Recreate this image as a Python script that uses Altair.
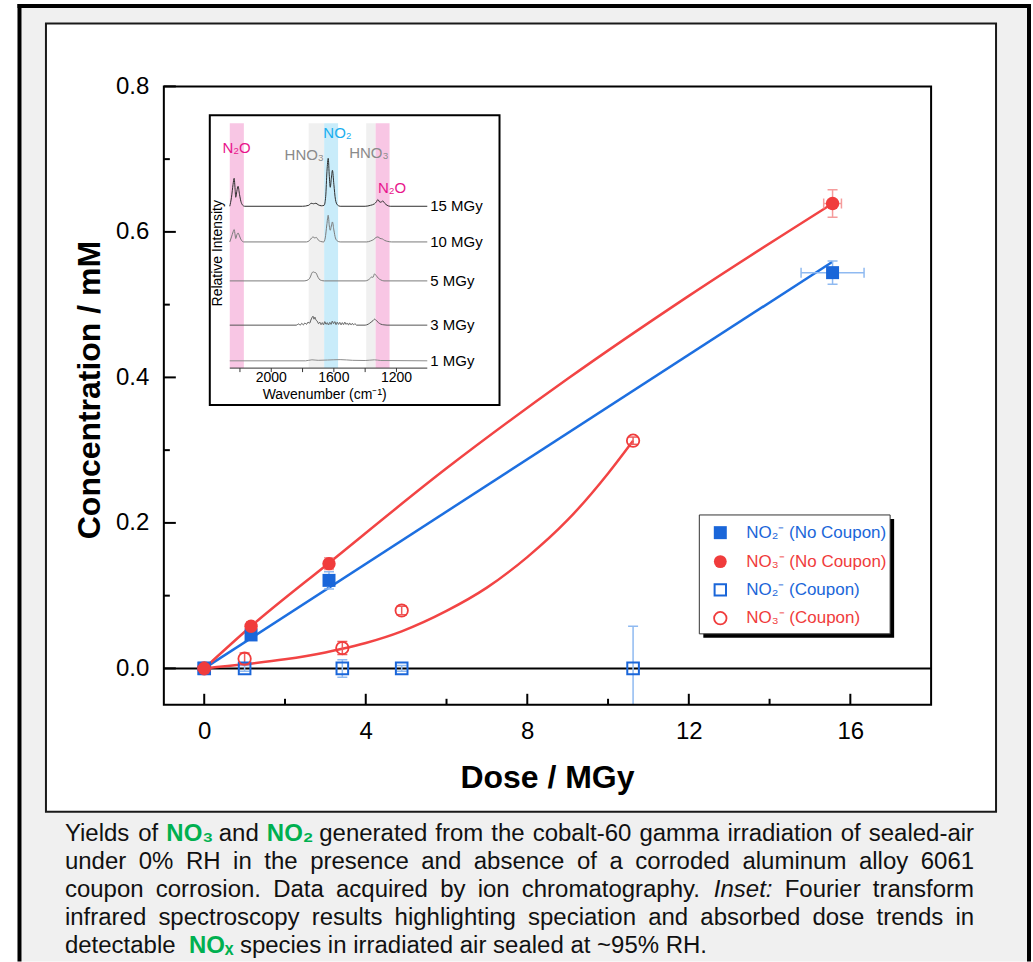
import altair as alt
import pandas as pd

# ------------------------------------------------------------------ data (main plot)
DOSE_NC = [0.0, 1.16, 3.09, 15.56]
NO2_NC = [0.0, 0.046, 0.121, 0.544]
NO2_NC_YERR = [0.0, 0.006, 0.012, 0.016]
NO2_NC_XERR = [0.0, 0.0, 0.0, 0.78]
NO3_NC = [0.0, 0.058, 0.144, 0.639]
NO3_NC_YERR = [0.0, 0.006, 0.008, 0.019]
NO3_NC_XERR = [0.0, 0.0, 0.0, 0.22]

DOSE_C = [0.0, 1.0, 3.42, 4.89, 10.62]
NO2_C = [0.0, 0.0, 0.0, 0.0, 0.0]
NO2_C_YERR = [0.0, 0.004, 0.012, 0.004, 0.058]
NO3_C = [0.0, 0.0133, 0.028, 0.0796, 0.313]
NO3_C_YERR = [0.0, 0.008, 0.009, 0.006, 0.005]

FIT_NO2_NC_X = [0.0, 15.56]
FIT_NO2_NC_Y = [0.0, 0.559]
FIT_NO3_NC_X = [0.0, 1.16, 3.09, 6.0, 9.0, 12.0, 15.56]
FIT_NO3_NC_Y = [0.0, 0.058, 0.145, 0.275, 0.398, 0.512, 0.639]
FIT_NO3_C_X = [0.0, 1.0, 2.0, 3.0, 3.42, 4.0, 4.89, 6.0, 7.0, 8.0, 9.0, 10.0, 10.62]
FIT_NO3_C_Y = [0.0, 0.0056, 0.0125, 0.022, 0.027, 0.035, 0.051, 0.079, 0.111, 0.153, 0.204,
               0.268, 0.313]

X_MAJOR = [0, 4, 8, 12, 16]
X_MINOR = [2, 6, 10, 14]
Y_MAJOR = [0.0, 0.2, 0.4, 0.6, 0.8]
Y_MINOR = [0.1, 0.3, 0.5, 0.7]

LEGEND_LABELS = ["NO\u2082\u207b (No Coupon)", "NO\u2083\u207b (No Coupon)",
                 "NO\u2082\u207b (Coupon)", "NO\u2083\u207b (Coupon)"]

# ------------------------------------------------------------------ data (inset FTIR)
WN_TICKS = [2200, 2000, 1800, 1600, 1400, 1200]
WN_LABELS = [2000, 1600, 1200]
SPEC_NAMES = ["15 MGy", "10 MGy", "5 MGy", "3 MGy", "1 MGy"]
SPEC_OFFSETS = [162.0, 126.3, 87.3, 43.0, 7.3]
SPEC_15 = [(2265, 0), (2254, 9), (2244, 22), (2237, 28), (2231, 17), (2227, 9), (2220, 15),
           (2212, 20), (2203, 12), (2194, 5), (2185, 1.5), (2170, 0), (1800, 0), (1760, 1),
           (1745, 3), (1730, 2.5), (1715, 3), (1700, 1.5), (1680, 0.5), (1662, 1), (1652, 10),
           (1644, 35), (1636, 48), (1629, 30), (1623, 19), (1616, 28), (1609, 36), (1600, 22),
           (1590, 7), (1578, 1.5), (1560, 0), (1400, 0), (1365, 1), (1340, 2.5), (1328, 4.5),
           (1319, 6.7), (1305, 4), (1295, 4.5), (1287, 5.3), (1275, 3), (1260, 1), (1240, 0),
           (1003, 0)]
SPEC_10 = [(2265, 0), (2254, 5), (2244, 10), (2237, 12.4), (2231, 7), (2227, 3.4), (2220, 7),
           (2212, 9), (2203, 6), (2192, 2), (2175, 0), (1775, 0), (1755, 1.5), (1742, 4),
           (1733, 5), (1722, 4), (1712, 4.5), (1700, 2), (1685, 0.5), (1665, 0), (1655, 4),
           (1645, 17), (1636, 26.7), (1629, 16), (1623, 11.7), (1616, 16), (1609, 20), (1600, 12),
           (1590, 4), (1578, 1), (1560, 0), (1390, 0), (1365, 1), (1345, 2.5), (1330, 4.5),
           (1318, 5), (1305, 3.5), (1290, 3), (1275, 1.5), (1255, 0.5), (1230, 0), (1003, 0)]
SPEC_5 = [(2265, 0), (1790, 0), (1765, 1), (1750, 4), (1740, 8), (1732, 9), (1724, 8.5),
          (1714, 8), (1705, 5), (1695, 2), (1680, 0.5), (1660, 0), (1400, 0), (1380, 1),
          (1365, 3), (1358, 4), (1350, 3.5), (1340, 7), (1330, 5.5), (1315, 2.5), (1300, 1),
          (1280, 0), (1003, 0)]
SPEC_3 = [(2265, 0), (1840, 0), (1825, 1.2), (1815, 0), (1805, 1.8), (1795, 0.3), (1785, 2.2),
          (1775, 0.8), (1765, 3), (1755, 2), (1747, 5), (1740, 7.5), (1733, 9), (1727, 6),
          (1721, 8), (1714, 5), (1706, 4), (1698, 1.5), (1690, 3), (1682, 0.5), (1674, 2.5),
          (1666, 0.3), (1658, 3.5), (1650, 0.8), (1642, 2.5), (1634, 0.2), (1626, 2.8),
          (1618, 0.8), (1610, 4), (1602, 1.5), (1594, 3.5), (1586, 0.5), (1578, 3), (1570, 0.8),
          (1562, 2.8), (1554, 0.3), (1546, 2.5), (1538, 0.5), (1530, 3), (1522, 0.8),
          (1514, 2.2), (1506, 0.2), (1498, 2), (1490, 0.3), (1482, 1.8), (1474, 0.2),
          (1466, 1.5), (1455, 0), (1400, 0), (1380, 1), (1362, 3), (1350, 4.5), (1340, 6),
          (1328, 4.5), (1315, 2.5), (1300, 1), (1280, 0.3), (1260, 0), (1003, 0)]
SPEC_1 = [(2265, 0), (1780, 0), (1740, 1), (1700, 0.5), (1640, 0.8), (1560, 1.2), (1480, 0.5),
          (1400, 0.3), (1340, 1), (1300, 0.3), (1003, 0)]
SPECTRA = [SPEC_15, SPEC_10, SPEC_5, SPEC_3, SPEC_1]

BAND_LO = [2265, 1761, 1662, 1393, 1333]
BAND_HI = [2175, 1662, 1573, 1333, 1244]
BAND_KIND = ["N2O", "HNO3", "NO2", "HNO3", "N2O"]
BAND_TEXT = ["N\u2082O", "HNO\u2083", "NO\u2082", "HNO\u2083", "N\u2082O"]
BAND_TEXT_WN = [2222, 1789, 1577, 1376, 1228]
BAND_TEXT_Y = [220, 213, 235, 215, 180]

CAPTION_LINES = [
    "Yields of {NO\u2083} and {NO\u2082} generated from the cobalt-60 gamma irradiation of sealed-air",
    "under 0% RH in the presence and absence of a corroded aluminum alloy 6061",
    "coupon corrosion. Data acquired by ion chromatography. [Inset:] Fourier transform",
    "infrared spectroscopy results highlighting speciation and absorbed dose trends in",
    "detectable {NO\u2093} species in irradiated air sealed at ~95% RH.",
]

# ------------------------------------------------------------------ styles / layout
FONT = "Liberation Sans"
BLUE, RED = "#1a66d9", "#f03c3c"
BLUE_LINE, RED_LINE = "#1d6fe0", "#f24444"
BLUE_ERR, RED_ERR, RED_ERR2 = "#8fbaf1", "#f59c9c", "#ee5a5a"
GREEN = "#00b050"
PINK_BAND, GRAY_BAND, CYAN_BAND = "#f8c6e4", "#f0f0f0", "#c9ecfa"
BAND_FILL = {"N2O": PINK_BAND, "HNO3": GRAY_BAND, "NO2": CYAN_BAND}
BAND_TXT_COL = {"N2O": "#e8158c", "HNO3": "#8a8a8a", "NO2": "#1aaeee"}
SPEC_COLORS = ["#2e2e2e", "#7a7a7a", "#7a7a7a", "#555555", "#8c8c8c"]

W, H = 768, 619
OX, OY = 164, 86  # page position of the plot origin


def px(v):
    return v - OX


def py(v):
    return v - OY


ONE = pd.DataFrame({"a": [0]})

xs = alt.Scale(domain=[-1, 18], nice=False, zero=False)
ys = alt.Scale(domain=[-0.05, 0.8], nice=False, zero=False)
X_AX = alt.Axis(values=X_MAJOR, title=None, domain=False, ticks=False, tickSize=0, grid=False,
                labelFont=FONT, labelFontSize=24, labelColor="black", labelPadding=15,
                labelFlush=False, labelOverlap=False, zindex=1, format="d")
Y_AX = alt.Axis(values=Y_MAJOR, title=None, domain=False, ticks=False, tickSize=0, grid=False,
                labelFont=FONT, labelFontSize=24, labelColor="black", labelPadding=15,
                labelFlush=False, labelOverlap=False, zindex=1, format=".1f")


def MX(f):
    return alt.X(f, type="quantitative", scale=xs, axis=X_AX)


def MY(f):
    return alt.Y(f, type="quantitative", scale=ys, axis=Y_AX)


def PX(f):
    return alt.X(f, type="quantitative", scale=None, axis=None)


def PY(f):
    return alt.Y(f, type="quantitative", scale=None, axis=None)


ix = alt.Scale(domain=[2265, 1003], range=[66, 263.7], nice=False, zero=False)
iy = alt.Scale(domain=[0, 245], range=[282, 37], nice=False, zero=False)


def IX(f):
    return alt.X(f, type="quantitative", scale=ix, axis=None)


def IY(f):
    return alt.Y(f, type="quantitative", scale=iy, axis=None)


# ------------------------------------------------------------------ background
bg_df = pd.DataFrame({
    "x0": [px(0), px(19.5), px(46)], "x1": [px(1033), px(1030), px(997)],
    "y0": [py(0), py(5.5), py(23)], "y1": [py(962), py(962), py(812)],
    "fill": ["white", "#f0f0f0", "white"], "stroke": ["white", "#f0f0f0", "#1a1a1a"],
    "sw": [0, 0, 2],
})
bg = alt.Chart(bg_df).mark_rect().encode(
    x=PX("x0"), x2=alt.X2("x1"), y=PY("y0"), y2=alt.Y2("y1"),
    fill=alt.Fill("fill:N", scale=None), stroke=alt.Stroke("stroke:N", scale=None),
    strokeWidth=alt.StrokeWidth("sw:Q", scale=None))
border_df = pd.DataFrame({
    "x0": [px(17.5), px(19.5), px(1030)], "x1": [px(1032), px(19.5), px(1030)],
    "y0": [py(5.5), py(3.5), py(3.5)], "y1": [py(5.5), py(962), py(962)]})
borders = alt.Chart(border_df).mark_rule(color="black", strokeWidth=4).encode(
    x=PX("x0"), x2=alt.X2("x1"), y=PY("y0"), y2=alt.Y2("y1"))

# ------------------------------------------------------------------ caption (justified)
AW = {' ': 278, 'a': 556, 'b': 556, 'c': 500, 'd': 556, 'e': 556, 'f': 278, 'g': 556, 'h': 556,
      'i': 222, 'j': 222, 'k': 500, 'l': 222, 'm': 833, 'n': 556, 'o': 556, 'p': 556, 'q': 556,
      'r': 333, 's': 500, 't': 278, 'u': 556, 'v': 500, 'w': 722, 'x': 500, 'y': 500, 'z': 500,
      'A': 667, 'B': 667, 'C': 722, 'D': 722, 'E': 667, 'F': 611, 'G': 778, 'H': 722, 'I': 278,
      'M': 833, 'N': 722, 'O': 778, 'R': 722, 'S': 667, 'T': 611, 'Y': 667,
      '.': 278, ',': 278, ':': 278, '-': 333, '%': 889, '~': 584, '(': 333, ')': 333,
      '\u2082': 350, '\u2083': 350, '\u2093': 350}
CAP_SIZE = 24
CAP_LEFT, CAP_RIGHT = 65, 975
CAP_BASE = [841, 869, 897, 925, 953]


def wwidth(s):
    return sum(AW.get(c, 556) for c in s) * CAP_SIZE / 1000.0


rows = []
for li, line in enumerate(CAPTION_LINES):
    words = []
    for tok in line.split(" "):
        if tok.startswith("{"):
            words.append((tok.strip("{}"), "green"))
        elif tok.startswith("["):
            words.append((tok.strip("[]"), "italic"))
        else:
            words.append((tok, "normal"))
    widths = [wwidth(w) for w, _ in words]
    last = li == len(CAPTION_LINES) - 1
    if not last:
        gap = (CAP_RIGHT - CAP_LEFT - sum(widths)) / (len(words) - 1)
    else:
        gap = AW[' '] * CAP_SIZE / 1000.0
    x = CAP_LEFT
    for (w, st), wd in zip(words, widths):
        if last and st == "green":
            x += gap  # the double space before NOx
        rows.append({"x": px(x), "y": py(CAP_BASE[li]), "t": w, "st": st})
        x += wd + gap
cap_df = pd.DataFrame(rows)


def cap_layer(style, **kw):
    return alt.Chart(cap_df[cap_df.st == style]).mark_text(
        font=FONT, fontSize=CAP_SIZE, align="left", baseline="alphabetic", **kw).encode(
        x=PX("x"), y=PY("y"), text="t:N")


caption = [cap_layer("normal", color="#111111"),
           cap_layer("green", color=GREEN, fontWeight="bold"),
           cap_layer("italic", color="#111111", fontStyle="italic")]

# ------------------------------------------------------------------ main plot
zero = alt.Chart(pd.DataFrame({"v": [0.0]})).mark_rule(color="black", strokeWidth=2).encode(
    y=MY("v"), x=alt.value(0), x2=alt.value(W))

fit_df = pd.concat([
    pd.DataFrame({"x": FIT_NO2_NC_X, "y": FIT_NO2_NC_Y, "s": "a", "c": BLUE_LINE}),
    pd.DataFrame({"x": FIT_NO3_NC_X, "y": FIT_NO3_NC_Y, "s": "b", "c": RED_LINE}),
    pd.DataFrame({"x": FIT_NO3_C_X, "y": FIT_NO3_C_Y, "s": "c", "c": RED_LINE}),
])
fits = alt.Chart(fit_df).mark_line(strokeWidth=2.5, interpolate="monotone").encode(
    x=MX("x"), y=MY("y"), detail="s:N", color=alt.Color("c:N", scale=None))

verr_rows, vcap_rows, herr_rows, hcap_rows = [], [], [], []
for xsr, ysr, es, col in [(DOSE_NC, NO2_NC, NO2_NC_YERR, BLUE_ERR),
                          (DOSE_NC, NO3_NC, NO3_NC_YERR, RED_ERR),
                          (DOSE_C, NO2_C, NO2_C_YERR, BLUE_ERR),
                          (DOSE_C, NO3_C, NO3_C_YERR, RED_ERR2)]:
    for xv, yv, e in zip(xsr, ysr, es):
        if e > 0:
            verr_rows.append({"x": xv, "lo": yv - e, "hi": yv + e, "c": col})
            vcap_rows += [{"x": xv, "y": yv - e, "c": col}, {"x": xv, "y": yv + e, "c": col}]
for xsr, ysr, es, col in [(DOSE_NC, NO2_NC, NO2_NC_XERR, BLUE_ERR),
                          (DOSE_NC, NO3_NC, NO3_NC_XERR, RED_ERR)]:
    for xv, yv, e in zip(xsr, ysr, es):
        if e > 0:
            herr_rows.append({"y": yv, "lo": xv - e, "hi": xv + e, "c": col})
            hcap_rows += [{"x": xv - e, "y": yv, "c": col}, {"x": xv + e, "y": yv, "c": col}]

verr = alt.Chart(pd.DataFrame(verr_rows)).mark_rule(strokeWidth=1.5, clip=True).encode(
    x=MX("x"), y=MY("lo"), y2=alt.Y2("hi"), color=alt.Color("c:N", scale=None))
vcap = alt.Chart(pd.DataFrame(vcap_rows)).mark_rule(
    strokeWidth=1.5, clip=True, xOffset=-5, x2Offset=5).encode(
    x=MX("x"), x2=alt.X2("x"), y=MY("y"), color=alt.Color("c:N", scale=None))
herr = alt.Chart(pd.DataFrame(herr_rows)).mark_rule(strokeWidth=1.5).encode(
    x=MX("lo"), x2=alt.X2("hi"), y=MY("y"), color=alt.Color("c:N", scale=None))
hcap = alt.Chart(pd.DataFrame(hcap_rows)).mark_rule(
    strokeWidth=1.5, yOffset=-5, y2Offset=5).encode(
    x=MX("x"), y=MY("y"), y2=alt.Y2("y"), color=alt.Color("c:N", scale=None))

pts_no2_c = alt.Chart(pd.DataFrame({"x": DOSE_C, "y": NO2_C})).mark_point(
    shape="square", filled=False, size=135, strokeWidth=2, color=BLUE, opacity=1).encode(
    x=MX("x"), y=MY("y"))
pts_no3_c = alt.Chart(pd.DataFrame({"x": DOSE_C, "y": NO3_C})).mark_point(
    shape="circle", filled=False, size=155, strokeWidth=1.8, color=RED, opacity=1).encode(
    x=MX("x"), y=MY("y"))
pts_no2_nc = alt.Chart(pd.DataFrame({"x": DOSE_NC, "y": NO2_NC})).mark_point(
    shape="square", filled=True, size=169, color=BLUE, opacity=1).encode(
    x=MX("x"), y=MY("y"))
pts_no3_nc = alt.Chart(pd.DataFrame({"x": DOSE_NC, "y": NO3_NC})).mark_point(
    shape="circle", filled=True, size=180, color=RED, opacity=1).encode(
    x=MX("x"), y=MY("y"))

xt_major = alt.Chart(pd.DataFrame({"v": X_MAJOR})).mark_rule(color="black", strokeWidth=2).encode(
    x=MX("v"), y=alt.value(H), y2=alt.value(H - 11))
xt_minor = alt.Chart(pd.DataFrame({"v": X_MINOR})).mark_rule(color="black", strokeWidth=2).encode(
    x=MX("v"), y=alt.value(H), y2=alt.value(H - 6))
yt_major = alt.Chart(pd.DataFrame({"v": Y_MAJOR})).mark_rule(color="black", strokeWidth=2).encode(
    y=MY("v"), x=alt.value(0), x2=alt.value(12))
yt_minor = alt.Chart(pd.DataFrame({"v": Y_MINOR})).mark_rule(color="black", strokeWidth=2).encode(
    y=MY("v"), x=alt.value(0), x2=alt.value(6))
frame = alt.Chart(ONE).mark_rect(fillOpacity=0, stroke="black", strokeWidth=2).encode(
    x=alt.value(0), x2=alt.value(W), y=alt.value(0), y2=alt.value(H))

main = alt.layer(zero, fits, verr, vcap, herr, hcap, pts_no2_c, pts_no3_c, pts_no2_nc,
                 pts_no3_nc, xt_major, xt_minor, yt_major, yt_minor, frame)

titles = [
    alt.Chart(ONE).mark_text(font=FONT, fontSize=32, fontWeight="bold", color="black",
                             align="center", baseline="middle").encode(
        x=alt.value(px(548)), y=alt.value(py(778)), text=alt.value("Dose / MGy")),
    alt.Chart(ONE).mark_text(font=FONT, fontSize=32, fontWeight="bold", color="black",
                             align="center", baseline="middle", angle=270).encode(
        x=alt.value(px(90)), y=alt.value(py(390)), text=alt.value("Concentration / mM")),
]

# ------------------------------------------------------------------ inset
inset_box = alt.Chart(ONE).mark_rect(fill="white", stroke="black", strokeWidth=2).encode(
    x=alt.value(px(210)), x2=alt.value(px(500)), y=alt.value(py(115)), y2=alt.value(py(405)))

band_df = pd.DataFrame({"lo": BAND_LO, "hi": BAND_HI, "b0": 0, "b1": 245,
                        "f": [BAND_FILL[k] for k in BAND_KIND]})
bands = alt.Chart(band_df).mark_rect().encode(
    x=IX("lo"), x2=alt.X2("hi"), y=IY("b0"), y2=alt.Y2("b1"), fill=alt.Fill("f:N", scale=None))

spec_rows = []
for name, off, sp, col in zip(SPEC_NAMES, SPEC_OFFSETS, SPECTRA, SPEC_COLORS):
    for wn, inten in sp:
        spec_rows.append({"wn": wn, "v": off + inten, "s": name, "c": col})
spectra = alt.Chart(pd.DataFrame(spec_rows)).mark_line(
    strokeWidth=1, interpolate="monotone").encode(
    x=IX("wn"), y=IY("v"), detail="s:N", color=alt.Color("c:N", scale=None))

iaxis = alt.Chart(pd.DataFrame({"a": [2265], "b": [1003], "z": [0]})).mark_rule(
    color="#333333", strokeWidth=1).encode(x=IX("a"), x2=alt.X2("b"), y=IY("z"))
iticks = alt.Chart(pd.DataFrame({"wn": WN_TICKS, "z": 0})).mark_rule(
    color="#333333", strokeWidth=1).encode(x=IX("wn"), y=IY("z"), y2=alt.value(py(372)))
itick_labels = alt.Chart(pd.DataFrame({"wn": WN_LABELS, "t": [str(v) for v in WN_LABELS]})).mark_text(
    font=FONT, fontSize=14, color="black", baseline="middle").encode(
    x=IX("wn"), y=alt.value(py(378)), text="t:N")
spec_labels = alt.Chart(pd.DataFrame({"wn": 1003, "off": SPEC_OFFSETS, "t": SPEC_NAMES})).mark_text(
    font=FONT, fontSize=15, color="black", align="left", baseline="middle", dx=3).encode(
    x=IX("wn"), y=IY("off"), text="t:N")
band_labels = alt.Chart(pd.DataFrame({"wn": BAND_TEXT_WN, "y": BAND_TEXT_Y, "t": BAND_TEXT,
                                      "c": [BAND_TXT_COL[k] for k in BAND_KIND]})).mark_text(
    font=FONT, fontSize=15, baseline="middle").encode(
    x=IX("wn"), y=IY("y"), text="t:N", color=alt.Color("c:N", scale=None))

inset = alt.layer(bands, spectra, iaxis, iticks, itick_labels, spec_labels, band_labels)

inset_text = [
    alt.Chart(ONE).mark_text(font=FONT, fontSize=14, color="black", align="center",
                             baseline="middle").encode(
        x=alt.value(px(325)), y=alt.value(py(395)), text=alt.value("Wavenumber (cm\u207b\u00b9)")),
    alt.Chart(ONE).mark_text(font=FONT, fontSize=14, color="black", align="center",
                             baseline="middle", angle=270).encode(
        x=alt.value(px(218)), y=alt.value(py(253)), text=alt.value("Relative Intensity")),
]

# ------------------------------------------------------------------ legend
LEG_ROWS_Y = [532.7, 561.7, 590.0, 618.3]
LEG_COLORS = [BLUE, RED, BLUE, RED]
leg_shadow = alt.Chart(ONE).mark_rect(fill="black").encode(
    x=alt.value(px(704)), x2=alt.value(px(895)), y=alt.value(py(519)), y2=alt.value(py(638)))
leg_box = alt.Chart(ONE).mark_rect(fill="white", stroke="#333333", strokeWidth=1).encode(
    x=alt.value(px(700)), x2=alt.value(px(891)), y=alt.value(py(515)), y2=alt.value(py(634)))
leg_syms = [
    alt.Chart(ONE).mark_point(shape="square", filled=True, size=169, color=BLUE, opacity=1).encode(
        x=alt.value(px(721)), y=alt.value(py(LEG_ROWS_Y[0]))),
    alt.Chart(ONE).mark_point(shape="circle", filled=True, size=165, color=RED, opacity=1).encode(
        x=alt.value(px(721)), y=alt.value(py(LEG_ROWS_Y[1]))),
    alt.Chart(ONE).mark_point(shape="square", filled=False, size=130, strokeWidth=2, color=BLUE,
                              opacity=1).encode(
        x=alt.value(px(721)), y=alt.value(py(LEG_ROWS_Y[2]))),
    alt.Chart(ONE).mark_point(shape="circle", filled=False, size=155, strokeWidth=1.8, color=RED,
                              opacity=1).encode(
        x=alt.value(px(721)), y=alt.value(py(LEG_ROWS_Y[3]))),
]
leg_text = alt.Chart(pd.DataFrame({"x": px(747), "y": [py(v) for v in LEG_ROWS_Y],
                                   "t": LEGEND_LABELS, "c": LEG_COLORS})).mark_text(
    font=FONT, fontSize=17, align="left", baseline="middle").encode(
    x=PX("x"), y=PY("y"), text="t:N", color=alt.Color("c:N", scale=None))

# ------------------------------------------------------------------ assemble
chart = alt.layer(
    bg, borders, *caption, main, *titles, inset_box, inset, *inset_text,
    leg_shadow, leg_box, *leg_syms, leg_text,
).resolve_scale(x="independent", y="independent").properties(
    width=W, height=H, padding=0, background="white"
).configure_view(stroke=None)

chart.save("out.html", embed_options={"renderer": "svg", "actions": False})
